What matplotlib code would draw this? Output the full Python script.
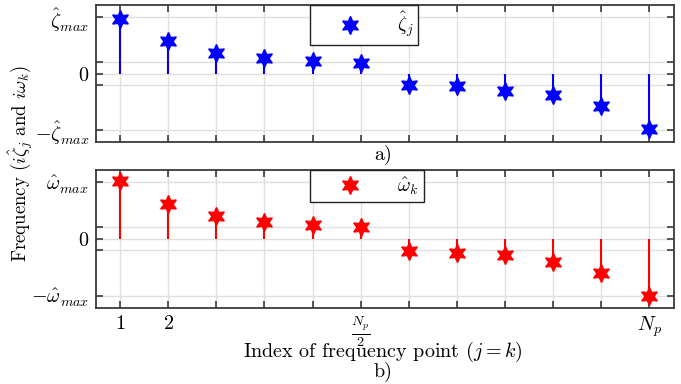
import numpy as np
import matplotlib
matplotlib.use('Agg')
import matplotlib.pyplot as plt

plt.rcParams['font.family'] = 'serif'
plt.rcParams['font.serif'] = ['cmr10']
plt.rcParams['mathtext.fontset'] = 'cm'
plt.rcParams['axes.formatter.use_mathtext'] = True

# frequency point index and normalized values (1 = max)
idx = np.arange(1, 13)
zeta = [0.96, 0.58, 0.355, 0.28, 0.22, 0.18, -0.195, -0.225, -0.30, -0.385, -0.58, -0.98]
omega = [1.01, 0.61, 0.40, 0.29, 0.245, 0.215, -0.21, -0.25, -0.29, -0.40, -0.60, -1.0]

yticks = [-1, -0.2, 0, 0.2, 1]
zeta_labels = [r'$-\hat{\zeta}_{max}$', '', r'$0$', '', r'$\hat{\zeta}_{max}$']
omega_labels = [r'$-\hat{\omega}_{max}$', '', r'$0$', '', r'$\hat{\omega}_{max}$']
xlabels = [r'$1$', r'$2$', '', '', '', r'$\frac{N_p}{2}$', '', '', '', '', '', r'$N_p$']

fig = plt.figure(figsize=(6.81, 3.84), dpi=100)
ax1 = fig.add_axes([0.141, 0.630, 0.848, 0.357])
ax2 = fig.add_axes([0.141, 0.199, 0.848, 0.358])

spine_col = '#3a3a3a'
for ax, vals, col, labs, leg in [(ax1, zeta, 'blue', zeta_labels, r'$\hat{\zeta}_j$'),
                                 (ax2, omega, 'red', omega_labels, r'$\hat{\omega}_k$')]:
    ax.vlines(idx, 0, vals, color=col, lw=1.5, zorder=3)
    ax.plot(idx, vals, ls='none', marker=(6, 1, 0), ms=13, color=col,
            label=leg, zorder=4)
    ax.set_xlim(0.5, 12.5)
    ax.set_ylim(-1.21, 1.21)
    ax.set_yticks(yticks)
    ax.set_yticklabels(labs)
    ax.set_xticks(idx)
    ax.grid(True, color='#e0e0e0', lw=1)
    ax.set_axisbelow(True)
    ax.tick_params(direction='in', top=True, right=True, length=5, width=1.2,
                   color=spine_col, labelsize=14.5, pad=5)
    for s in ax.spines.values():
        s.set_color(spine_col)
        s.set_linewidth(1.3)
    lg = ax.legend(loc='upper left', bbox_to_anchor=(0.371, 1.0), fontsize=14,
                   fancybox=False, framealpha=1, edgecolor='#222222',
                   handlelength=3.6, handletextpad=0.6, borderpad=0.25,
                   borderaxespad=0)
    lg.get_frame().set_linewidth(1.0)

ax1.set_xticklabels([])
ax2.set_xticklabels(xlabels)

fig.text(0.562, 0.597, 'a)', ha='center', va='center', fontsize=14.5)
fig.text(0.562, 0.031, 'b)', ha='center', va='center', fontsize=14.5)
fig.text(0.562, 0.083, r'Index of frequency point $(j=k)$', ha='center',
         va='center', fontsize=14.5)
fig.text(0.03, 0.575, r'Frequency $(i\hat{\zeta}_j$ and $i\omega_k)$', ha='center',
         va='center', rotation=90, fontsize=13.5)

fig.savefig('out.png', dpi=100)
